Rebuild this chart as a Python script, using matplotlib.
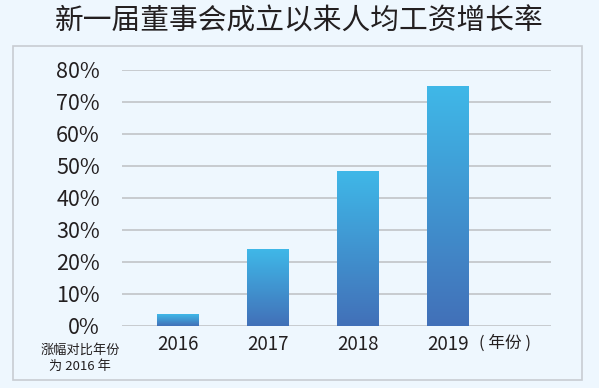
import matplotlib
matplotlib.use("Agg")
import matplotlib.pyplot as plt
from matplotlib.patches import Rectangle
from matplotlib.colors import LinearSegmentedColormap
import matplotlib.transforms as mtransforms
import numpy as np

plt.rcParams['font.family'] = ['Noto Sans CJK SC', 'DejaVu Sans']

# chart data
title = "新一届董事会成立以来人均工资增长率"
years = ["2016", "2017", "2018", "2019"]
growth = [3.6, 24, 48.5, 75]          # percent
y_ticks = [0, 10, 20, 30, 40, 50, 60, 70, 80]
unit_label = "( 年份 )"
note = "涨幅对比年份\n为 2016 年"

bg = "#eef7fe"
text_col = "#231f20"
grid_col = "#c4c8cc"

fig = plt.figure(figsize=(5.99, 3.88), dpi=100, facecolor=bg)

# outer frame
fig.patches.append(Rectangle((13 / 599, 1 - 380 / 388), 569 / 599, 334 / 388,
                             transform=fig.transFigure, facecolor="none",
                             edgecolor="#c8ccd2", linewidth=1.2, zorder=-1))

fig.text(0.5, 1 - 22 / 388, title, ha="center", va="center",
         fontsize=20.7, color=text_col)

ax = fig.add_axes([122 / 599, 1 - 326 / 388, 429 / 599, 256 / 388])
ax.set_facecolor("none")

for v in y_ticks:
    ax.axhline(v, color=grid_col, linewidth=1.3, zorder=1)

# gradient bars
cmap = LinearSegmentedColormap.from_list("barfade", ["#4270b8", "#3fb8e8"])
x = np.arange(len(years))
bars = ax.bar(x, growth, width=0.465, color="none", zorder=2)
grad = np.linspace(0, 1, 256).reshape(-1, 1)
for b in bars:
    x0, y0 = b.get_x(), b.get_y()
    w, h = b.get_width(), b.get_height()
    im = ax.imshow(grad, cmap=cmap, aspect="auto", origin="lower",
                   extent=[x0, x0 + w, y0, y0 + h], zorder=3)
    im.set_clip_path(b)
ax.set_xlim(-0.62, 4.14)
ax.set_ylim(0, 80)

for s in ax.spines.values():
    s.set_visible(False)
ax.tick_params(length=0)
ax.set_yticks(y_ticks)
ax.set_yticklabels([f"{v}%" for v in y_ticks], fontsize=15.5, color=text_col)
ax.tick_params(axis="y", pad=16)
ax.set_xticks(x)
ax.set_xticklabels(years, fontsize=13.5, color=text_col)
ax.tick_params(axis="x", pad=6)

trans = mtransforms.blended_transform_factory(ax.transData, fig.transFigure)
ax.text(3 + 0.34, 1 - 343 / 388, unit_label, transform=trans, ha="left",
        va="center", fontsize=12, color=text_col)

fig.text(80 / 599, 1 - 358 / 388, note, ha="center", va="center",
         fontsize=9.5, color=text_col, linespacing=1.3)

fig.savefig("out.png", dpi=100, facecolor=bg)
